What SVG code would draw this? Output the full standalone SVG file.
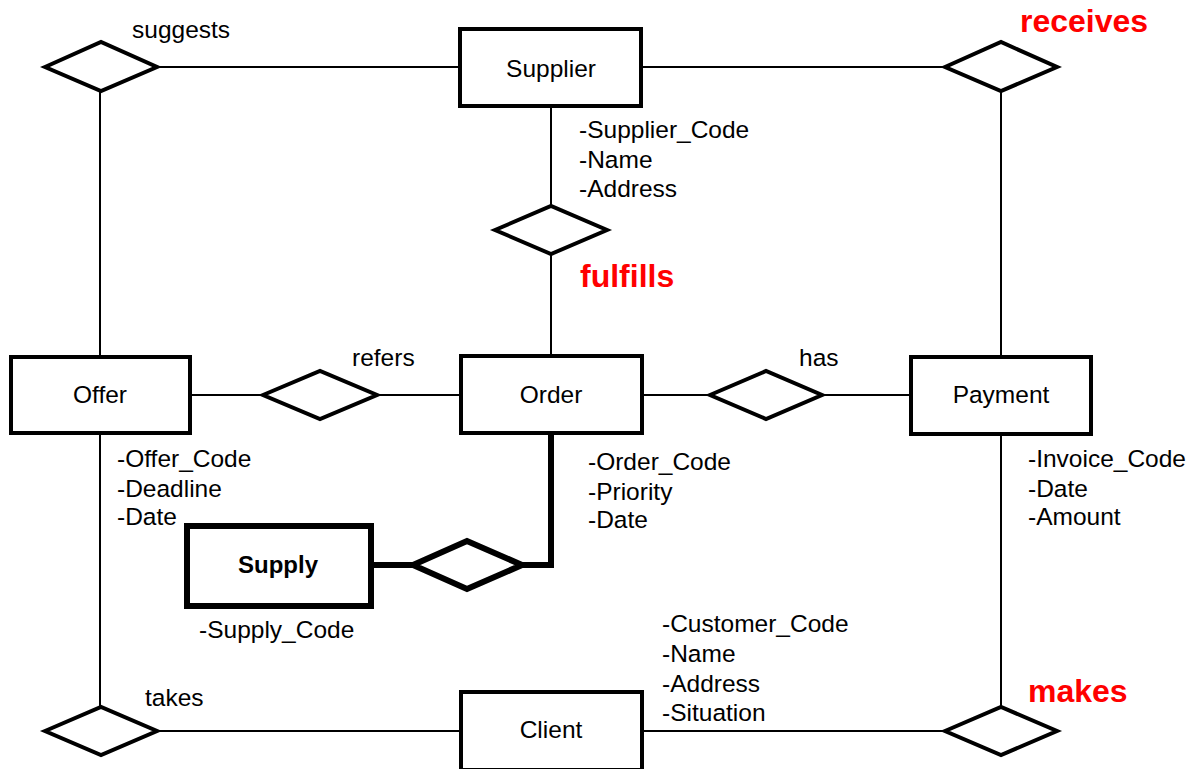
<svg xmlns="http://www.w3.org/2000/svg" width="1197" height="769" viewBox="0 0 1197 769">
<style>
.ent{fill:#fff;stroke:#000;stroke-width:4}
.weak{fill:#fff;stroke:#000;stroke-width:6}
.rel{fill:#fff;stroke:#000;stroke-width:4;stroke-linejoin:miter}
.wrel{fill:#fff;stroke:#000;stroke-width:6}
.ln{stroke:#000;stroke-width:2;fill:none}
.wln{stroke:#000;stroke-width:6;fill:none}
text{font-family:"Liberation Sans",Arial,sans-serif;font-size:24.5px;fill:#000}
.c{text-anchor:middle}
.b{font-weight:bold;font-size:24px}
.red{fill:#f00;font-weight:bold;font-size:32px}
</style>
<rect width="1197" height="769" fill="#fff"/>
<g id="connectors">
<line class="ln" x1="157" y1="67" x2="460" y2="67"/>
<line class="ln" x1="641" y1="67" x2="945" y2="67"/>
<line class="ln" x1="100" y1="91" x2="100" y2="357"/>
<line class="ln" x1="100" y1="433" x2="100" y2="707"/>
<line class="ln" x1="1001" y1="91" x2="1001" y2="357"/>
<line class="ln" x1="1001" y1="434" x2="1001" y2="707"/>
<line class="ln" x1="551" y1="106" x2="551" y2="206"/>
<line class="ln" x1="551" y1="254" x2="551" y2="356"/>
<line class="ln" x1="190" y1="395" x2="263" y2="395"/>
<line class="ln" x1="377" y1="395" x2="461" y2="395"/>
<line class="ln" x1="642" y1="395" x2="710" y2="395"/>
<line class="ln" x1="822" y1="395" x2="911" y2="395"/>
<line class="ln" x1="157" y1="731" x2="461" y2="731"/>
<line class="ln" x1="642" y1="731" x2="945" y2="731"/>
<line class="wln" x1="371" y1="565" x2="413" y2="565"/>
<polyline class="wln" points="522,565 551,565 551,433"/>
</g>
<g id="suggests">
<polygon class="rel" points="45,67 101,42 157,67 101,91"/>
<text x="132" y="38">suggests</text>
</g>
<g id="receives">
<polygon class="rel" points="945,67 1001,42 1057,67 1001,91"/>
<text class="red" x="1020" y="32">receives</text>
</g>
<g id="fulfills">
<polygon class="rel" points="495,230 551,206 607,230 551,254"/>
<text class="red" x="580" y="287">fulfills</text>
</g>
<g id="refers">
<polygon class="rel" points="263,395 320,371 377,395 320,419"/>
<text x="352" y="366">refers</text>
</g>
<g id="has">
<polygon class="rel" points="710,395 766,371 822,395 766,419"/>
<text x="799" y="366">has</text>
</g>
<g id="takes">
<polygon class="rel" points="45,731 101,707 157,731 101,755"/>
<text x="145" y="706">takes</text>
</g>
<g id="makes">
<polygon class="rel" points="945,731 1001,707 1057,731 1001,755"/>
<text class="red" x="1028" y="702">makes</text>
</g>
<g id="supply-rel">
<polygon class="wrel" points="413,565 467,541 522,565 467,589"/>
</g>
<g id="Supplier">
<rect class="ent" x="460" y="29" width="181" height="77"/>
<text class="c" x="551" y="77">Supplier</text>
<text x="579" y="138">-Supplier_Code</text>
<text x="579" y="168">-Name</text>
<text x="579" y="197">-Address</text>
</g>
<g id="Offer">
<rect class="ent" x="11" y="357" width="179" height="76"/>
<text class="c" x="100" y="403">Offer</text>
<text x="117" y="467">-Offer_Code</text>
<text x="117" y="497">-Deadline</text>
<text x="117" y="525">-Date</text>
</g>
<g id="Order">
<rect class="ent" x="461" y="356" width="181" height="77"/>
<text class="c" x="551" y="403">Order</text>
<text x="588" y="470">-Order_Code</text>
<text x="588" y="500">-Priority</text>
<text x="588" y="528">-Date</text>
</g>
<g id="Payment">
<rect class="ent" x="911" y="357" width="180" height="77"/>
<text class="c" x="1001" y="403">Payment</text>
<text x="1028" y="467">-Invoice_Code</text>
<text x="1028" y="497">-Date</text>
<text x="1028" y="525">-Amount</text>
</g>
<g id="Supply">
<rect class="weak" x="187" y="526" width="184" height="80"/>
<text class="c b" x="278" y="573">Supply</text>
<text x="199" y="638">-Supply_Code</text>
</g>
<g id="Client">
<rect class="ent" x="461" y="692" width="181" height="78"/>
<text class="c" x="551" y="738">Client</text>
<text x="662" y="632">-Customer_Code</text>
<text x="662" y="662">-Name</text>
<text x="662" y="692">-Address</text>
<text x="662" y="721">-Situation</text>
</g>
</svg>
